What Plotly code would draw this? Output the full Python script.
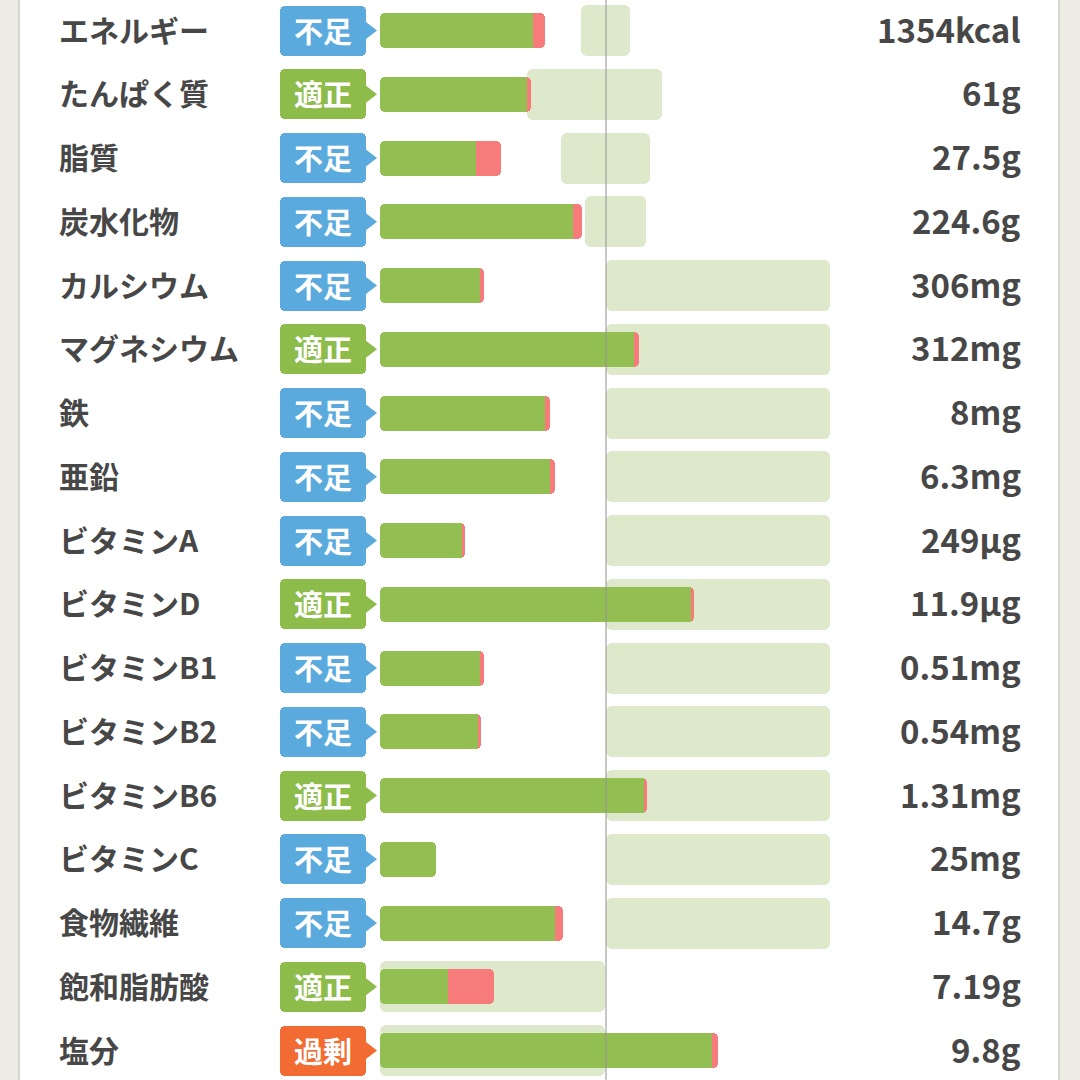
import plotly.graph_objects as go

# ---------------- data ----------------
nutrients = ["エネルギー", "たんぱく質", "脂質", "炭水化物", "カルシウム", "マグネシウム",
             "鉄", "亜鉛", "ビタミンA", "ビタミンD", "ビタミンB1", "ビタミンB2",
             "ビタミンB6", "ビタミンC", "食物繊維", "飽和脂肪酸", "塩分"]
status = ["不足", "適正", "不足", "不足", "不足", "適正", "不足", "不足", "不足",
          "適正", "不足", "不足", "適正", "不足", "不足", "適正", "過剰"]
amounts = ["1354kcal", "61g", "27.5g", "224.6g", "306mg", "312mg", "8mg", "6.3mg",
           "249µg", "11.9µg", "0.51mg", "0.54mg", "1.31mg", "25mg", "14.7g", "7.19g", "9.8g"]
# intake as % of reference (green part end, red part end)
green_pct = [67.7, 65.0, 42.5, 85.4, 44.2, 112.4, 73.0, 75.2, 36.3, 137.6,
             44.2, 43.4, 116.8, 24.8, 77.4, 30.1, 146.9]
total_pct = [73.0, 66.8, 53.5, 89.4, 46.0, 114.6, 75.2, 77.4, 37.6, 138.9,
             46.0, 44.7, 118.1, 24.8, 81.0, 50.4, 149.6]
# recommended range (% of reference)
range_lo = [88.9, 65.0, 80.1, 90.7, 100, 100, 100, 100, 100, 100,
            100, 100, 100, 100, 100, 0, 0]
range_hi = [110.6, 124.8, 119.5, 117.7, 199, 199, 199, 199, 199, 199,
            199, 199, 199, 199, 199, 99.5, 99.5]
REF = 100

# ---------------- styling ----------------
W = H = 1080
PX = 2.26          # pixels per percent
X0 = 380           # pixel of 0%
ROW0 = 30.5        # pixel centre of first row
ROWH = 63.75       # pixel row pitch

def px2x(p):
    return (p - X0) / PX

GREEN = "#93be52"
RED = "#f77b7b"
BOX = "#dde9ca"
BADGE = {"不足": "#5aaadd", "適正": "#8dbc4b", "過剰": "#f26b32"}
TXT = "#474747"
FONT = "Noto Sans CJK JP"

rows = list(range(len(nutrients)))

fig = go.Figure()

# recommended range boxes
fig.add_trace(go.Bar(
    orientation="h", y=rows, base=range_lo,
    x=[h - l for l, h in zip(range_lo, range_hi)],
    width=51 / ROWH, marker=dict(color=BOX, cornerradius=6, line=dict(width=0)),
    hoverinfo="skip", showlegend=False))

# red part (total intake)
fig.add_trace(go.Bar(
    orientation="h", y=rows, base=[0] * len(rows), x=total_pct,
    width=35 / ROWH, marker=dict(color=RED, cornerradius=5, line=dict(width=0)),
    hoverinfo="skip", showlegend=False))

# green part
fig.add_trace(go.Bar(
    orientation="h", y=rows, base=[0] * len(rows), x=green_pct,
    width=35 / ROWH, marker=dict(color=GREEN, cornerradius=5, line=dict(width=0)),
    hoverinfo="skip", showlegend=False))

# square off green right edge where a red part follows
patch = 2.6
pr = [r for r in rows if total_pct[r] > green_pct[r] + 0.5]
fig.add_trace(go.Bar(
    orientation="h", y=pr, base=[green_pct[r] - patch for r in pr], x=[patch] * len(pr),
    width=35 / ROWH, marker=dict(color=GREEN, line=dict(width=0)),
    hoverinfo="skip", showlegend=False))

# status badges
b_lo, b_hi = px2x(280), px2x(366)
fig.add_trace(go.Bar(
    orientation="h", y=rows, base=[b_lo] * len(rows), x=[b_hi - b_lo] * len(rows),
    width=50 / ROWH, marker=dict(color=[BADGE[s] for s in status], cornerradius=5,
                                 line=dict(width=0)),
    hoverinfo="skip", showlegend=False))
fig.add_trace(go.Scatter(
    x=[px2x(369)] * len(rows), y=rows, mode="markers",
    marker=dict(symbol="triangle-right", size=16, color=[BADGE[s] for s in status],
                line=dict(width=0)),
    hoverinfo="skip", showlegend=False))

# reference line
fig.add_shape(type="line", xref="x", yref="paper", x0=REF, x1=REF, y0=0, y1=1,
              line=dict(color="rgba(150,150,150,0.7)", width=1.5), layer="above")

# white panel & borders
fig.add_shape(type="rect", xref="paper", yref="paper", x0=20 / W, x1=1058 / W, y0=0, y1=1,
              fillcolor="white", line=dict(width=0), layer="below")
fig.add_shape(type="line", xref="paper", yref="paper", x0=19 / W, x1=19 / W, y0=0, y1=1,
              line=dict(color="#d6d6cf", width=2), layer="below")
fig.add_shape(type="line", xref="paper", yref="paper", x0=1059 / W, x1=1059 / W, y0=0, y1=1,
              line=dict(color="#d6d6cf", width=2), layer="below")

for r in rows:
    fig.add_annotation(x=57 / W, xref="paper", y=r, yref="y", text=nutrients[r],
                       xanchor="left", showarrow=False, yshift=2,
                       font=dict(family=FONT, size=30, color=TXT, weight="bold"))
    fig.add_annotation(x=1023 / W, xref="paper", y=r, yref="y", text=amounts[r],
                       xanchor="right", showarrow=False, yshift=2,
                       font=dict(family=FONT, size=33, color=TXT, weight="bold"))
    fig.add_annotation(x=(b_lo + b_hi) / 2, xref="x", y=r, yref="y", text=status[r],
                       xanchor="center", showarrow=False, yshift=1,
                       font=dict(family=FONT, size=29, color="white", weight="bold"))

fig.update_layout(
    width=W, height=H, margin=dict(l=0, r=0, t=0, b=0),
    paper_bgcolor="#ecebe4", plot_bgcolor="rgba(0,0,0,0)",
    barmode="overlay", bargap=0,
    xaxis=dict(range=[px2x(0), px2x(W)], visible=False, fixedrange=True),
    yaxis=dict(range=[(H - ROW0) / ROWH, -ROW0 / ROWH], visible=False, fixedrange=True),
    showlegend=False,
)

fig.write_html("out.html", config={"displayModeBar": False},
               post_script="document.body.style.margin='0';")
